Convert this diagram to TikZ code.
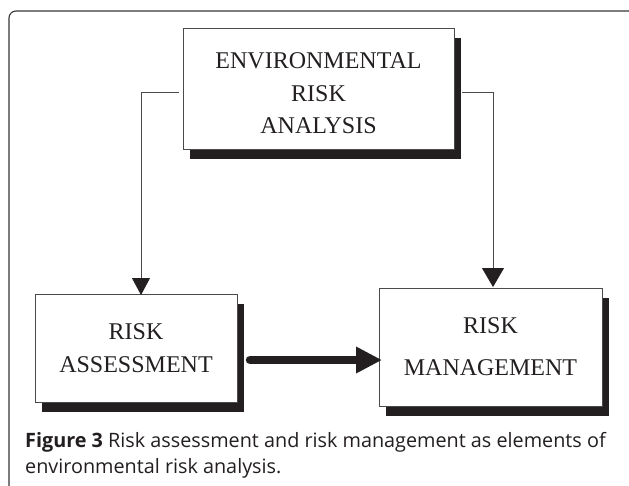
\documentclass[tikz,border=0pt]{standalone}
\usepackage{fontspec}
\setmainfont{Liberation Serif}
\newfontfamily\capfont{Open Sans}
\usetikzlibrary{arrows.meta,shadows,calc}
\definecolor{ink}{HTML}{231F20}
\definecolor{edge}{HTML}{4A4A4A}
\tikzset{
  boxnode/.style={draw=edge, line width=0.8pt, fill=white, text=ink, align=center,
    inner sep=0pt, outer sep=0pt,
    drop shadow={shadow xshift=7pt, shadow yshift=-9.5pt, opacity=1, fill=ink}},
  conn/.style={draw=edge, line width=0.8pt, -{Triangle[width=18pt,length=17pt,color=ink]}},
  connbig/.style={draw=edge, line width=0.8pt, -{Triangle[width=22pt,length=19pt,color=ink]}},
  bigarrow/.style={draw=ink, line width=8.5pt, line cap=round, -{Triangle[width=25pt,length=26pt]}},
  captext/.style={anchor=base west, text=ink, inner sep=0pt, font=\capfont\fontsize{19.8}{26}\selectfont},
}
\begin{document}
\begin{tikzpicture}[x=1pt,y=-1pt]
\useasboundingbox (0,0) rectangle (629,485);
\fill[white] (0,0) rectangle (629,485);
% outer frame
\draw[line width=1.1pt, draw=ink!90, rounded corners=7pt] (640,11) -- (9,11) -- (9,500);
% boxes
\node[boxnode, minimum width=271pt, minimum height=121pt,
  font=\fontsize{24}{32.5}\selectfont] (top) at (318.5,88.5)
  {\raisebox{-6pt}[\height][\depth]{\begin{tabular}{@{}c@{}}ENVIRONMENTAL\\RISK\\ANALYSIS\end{tabular}}};
\node[boxnode, minimum width=202pt, minimum height=108pt,
  font=\fontsize{24}{33}\selectfont] (assess) at (136,348)
  {RISK\\ASSESSMENT};
\node[boxnode, minimum width=223pt, minimum height=118pt,
  font=\fontsize{24}{42}\selectfont] (manage) at (490.5,347)
  {RISK\\MANAGEMENT};
% connectors
\coordinate (ls) at ($(top.west)+(-4,3.5)$);
\coordinate (rs) at ($(top.east)+(8,3.5)$);
\draw[conn] (ls) -| ($(assess.north)+(5,1)$);
\draw[connbig] (rs) -| ($(manage.north)+(2.5,-1)$);
\draw[bigarrow] ($(assess.east)+(13,12)$) -- ($(manage.west)+(3,13)$);
% caption
\node[captext] (cap1) at (25,447)
  {\textbf{Figure 3} Risk assessment and risk management as elements of};
\node[captext] (cap2) at (25,473) {environmental risk analysis.};
\end{tikzpicture}
\end{document}
